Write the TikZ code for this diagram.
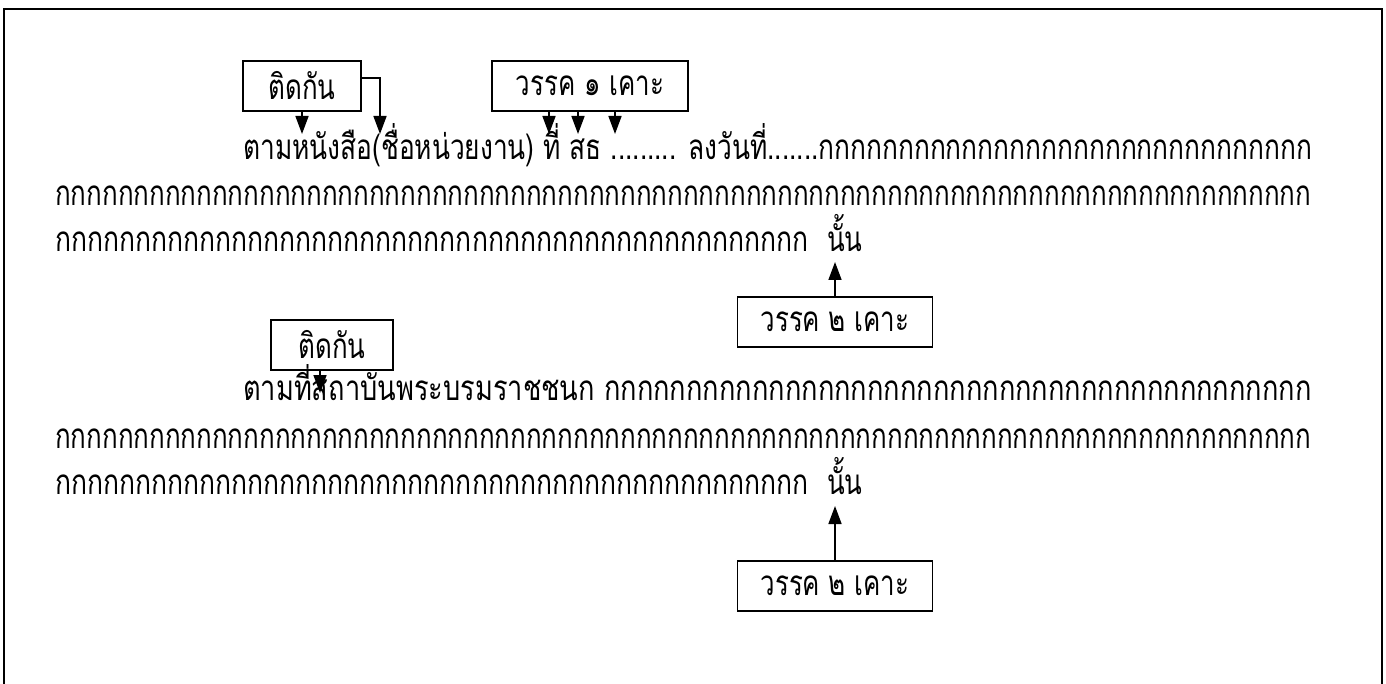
\documentclass[tikz,border=0pt]{standalone}
\usepackage{fontspec}
\usepackage{graphicx}
\newfontfamily\thaifont[Script=Thai,FakeStretch=0.74]{Loma}
\usetikzlibrary{arrows.meta,calc}
\newcommand\kten{กกกกกกกกกก}
\begin{document}
\begin{tikzpicture}[x=1pt,y=-1pt,
  box/.style={draw,line width=1.6pt,minimum height=50pt,inner sep=0pt,font=\thaifont\fontsize{35}{38}\selectfont},
  arr/.style={line width=1.6pt,-{Triangle[width=13pt,length=18pt]}},
  txt/.style={anchor=base west,inner sep=0pt,font=\thaifont\fontsize{35}{38}\selectfont}]
\useasboundingbox (0,0) rectangle (1386,684);
\draw[line width=2pt] (4,720) -- (4,9) -- (1382,9) -- (1382,720);
% top boxes
\node[box,minimum width=118pt] (A) at (302,86) {ติดกัน};
\node[box,minimum width=196pt] (B) at (590,86) {วรรค ๑ เคาะ};
\coordinate (h) at (0,78);
\coordinate (a1) at (302,134);
\coordinate (a2) at (380,134);
\coordinate (b1) at (549,134);
\coordinate (b2) at (578,134);
\coordinate (b3) at (615,134);
\draw[arr] (A.south) -- (a1);
\draw[arr] (A.east |- h) -| (a2);
\draw[arr] (B.south -| b1) -- (b1);
\draw[arr] (B.south -| b2) -- (b2);
\draw[arr] (B.south -| b3) -- (b3);
% paragraph 1
\node[txt] (L1) at (243,160) {\resizebox{1069pt}{\height}{ตามหนังสือ(ชื่อหน่วยงาน) ที่ สธ ......... ลงวันที่.......\kten\kten\kten ก}};
\node[txt] (L2) at (55,206) {\resizebox{1257pt}{\height}{\kten\kten\kten\kten\kten\kten\kten\kten}};
\node[txt] (L3) at (55,252) {\resizebox{754pt}{\height}{\kten\kten\kten\kten กกกกกกก}};
\node[txt] (N1) at (827,252) {นั้น};
\node[box,minimum width=195pt] (C) at (835,322) {วรรค ๒ เคาะ};
\coordinate (c1) at (835,262);
\draw[arr] (C.north) -- (c1);
% second block
\node[box,minimum width=122pt] (D) at (332,345) {ติดกัน};
\coordinate (d1) at (320,393);
\draw[arr] (D.south -| d1) -- (d1);
\node[txt] (L4) at (243,400) {\resizebox{1069pt}{\height}{ตามที่สถาบันพระบรมราชชนก \kten\kten\kten\kten กกก}};
\node[txt] (L5) at (55,448) {\resizebox{1257pt}{\height}{\kten\kten\kten\kten\kten\kten\kten\kten}};
\node[txt] (L6) at (55,494) {\resizebox{754pt}{\height}{\kten\kten\kten\kten กกกกกกก}};
\node[txt] (N2) at (827,494) {นั้น};
\node[box,minimum width=195pt] (E) at (835,586) {วรรค ๒ เคาะ};
\coordinate (e1) at (835,506);
\draw[arr] (E.north) -- (e1);
\end{tikzpicture}
\end{document}
